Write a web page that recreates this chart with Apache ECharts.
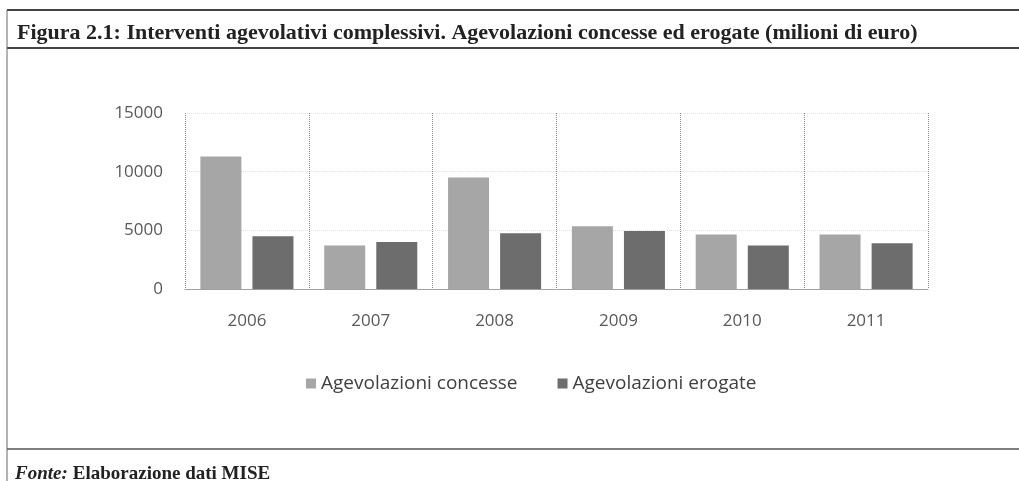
<!DOCTYPE html>
<html>
<head>
<meta charset="utf-8">
<script src="https://cdn.jsdelivr.net/npm/echarts@6/dist/echarts.min.js"></script>
<style>
  html, body { margin: 0; padding: 0; background: #fff; }
  #chart { width: 1019px; height: 481px; }
</style>
</head>
<body>
<div id="chart"></div>
<script>
const years = ['2006', '2007', '2008', '2009', '2010', '2011']
const concesse = [11300, 3700, 9500, 5350, 4650, 4650]
const erogate = [4500, 4000, 4750, 4950, 3700, 3900]
const seriesNames = ['Agevolazioni concesse', 'Agevolazioni erogate']

const chart = echarts.init(document.getElementById('chart'))

const labelFont = { color: '#595959', fontFamily: 'Open Sans', fontSize: 17 }

chart.setOption({
  animation: false,
  backgroundColor: '#fff',
  title: [{
    text: 'Figura 2.1: Interventi agevolativi complessivi. Agevolazioni concesse ed erogate (milioni di euro)',
    left: 12,
    top: 17,
    textStyle: { fontFamily: 'Liberation Serif', fontWeight: 'bold', fontSize: 22, color: '#222' }
  }, {
    text: '{i|Fonte:} {b|Elaborazione dati MISE}',
    left: 10,
    top: 460,
    textStyle: {
      rich: {
        i: { fontFamily: 'Liberation Serif', fontStyle: 'italic', fontSize: 19, color: '#222' },
        b: { fontFamily: 'Liberation Serif', fontWeight: 'bold', fontSize: 19, color: '#222' }
      }
    }
  }],
  graphic: [
    { type: 'line', shape: { x1: 7, y1: 10, x2: 1019, y2: 10 }, style: { stroke: '#444', lineWidth: 2 } },
    { type: 'line', shape: { x1: 7, y1: 48, x2: 1019, y2: 48 }, style: { stroke: '#444', lineWidth: 2 } },
    { type: 'line', shape: { x1: 7, y1: 449, x2: 1019, y2: 449 }, style: { stroke: '#555', lineWidth: 1.5 } },
    { type: 'line', shape: { x1: 7, y1: 10, x2: 7, y2: 481 }, style: { stroke: '#666', lineWidth: 1 } }
  ],
  legend: {
    data: seriesNames,
    top: 369,
    left: 301,
    itemWidth: 10,
    itemHeight: 10,
    itemGap: 40,
    icon: 'rect',
    textStyle: { color: '#404040', fontFamily: 'Open Sans', fontSize: 19 }
  },
  grid: { left: 185, right: 91, top: 113, bottom: 192 },
  xAxis: {
    type: 'category',
    data: years,
    axisTick: { show: false },
    axisLine: { lineStyle: { color: '#a0a0a0', width: 1 } },
    axisLabel: Object.assign({ margin: 24 }, labelFont),
    splitLine: { show: true, interval: 0, lineStyle: { color: '#8a8a8a', type: 'dotted', width: 1 } }
  },
  yAxis: {
    type: 'value',
    min: 0,
    max: 15000,
    interval: 5000,
    axisLine: { show: false },
    axisTick: { show: false },
    axisLabel: Object.assign({ margin: 22, formatter: v => String(v) }, labelFont),
    splitLine: { lineStyle: { color: '#e2e2e2', type: 'dotted' } }
  },
  series: [
    { name: seriesNames[0], type: 'bar', data: concesse, barWidth: 41, barGap: '27%', itemStyle: { color: '#a6a6a6' } },
    { name: seriesNames[1], type: 'bar', data: erogate, barWidth: 41, itemStyle: { color: '#6d6d6d' } }
  ]
})
</script>
</body>
</html>
